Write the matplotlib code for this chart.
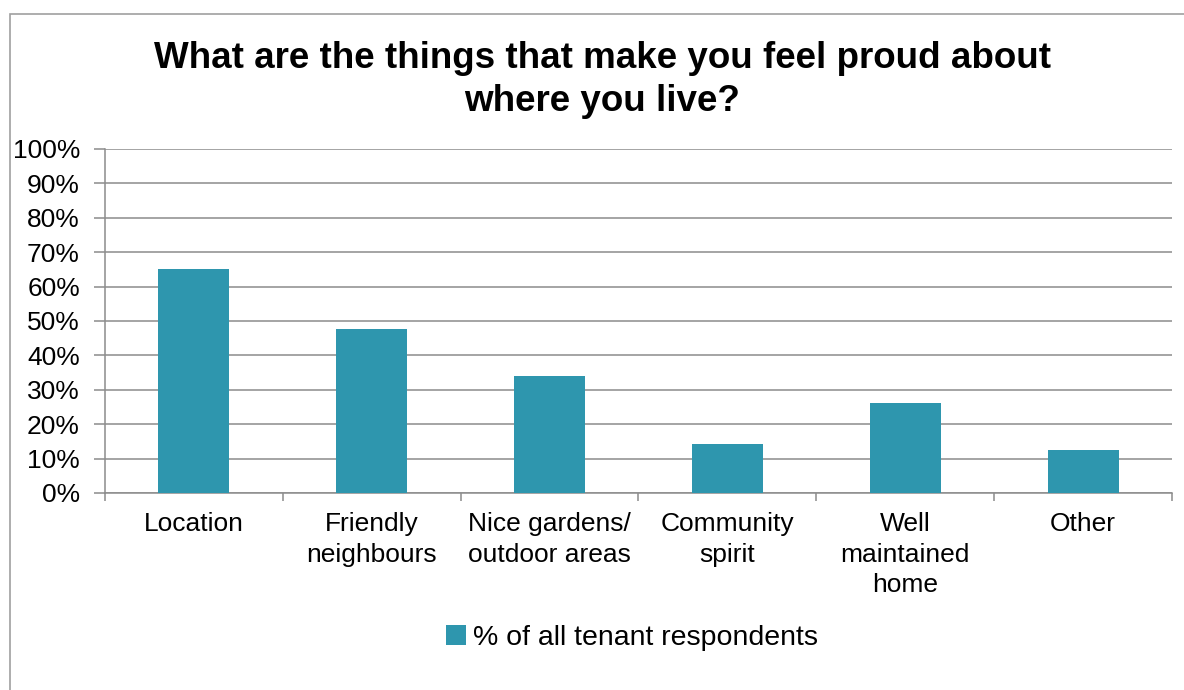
import matplotlib
matplotlib.use("Agg")
import matplotlib.pyplot as plt
from matplotlib.patches import Rectangle
from matplotlib.ticker import FixedLocator, NullFormatter

categories = ["Location", "Friendly\nneighbours", "Nice gardens/\noutdoor areas",
              "Community\nspirit", "Well\nmaintained\nhome", "Other"]
values = [65.0, 47.6, 34.0, 14.2, 26.2, 12.5]
series_name = "% of all tenant respondents"
y_ticks = list(range(0, 101, 10))
y_tick_labels = [f"{t}%" for t in y_ticks]

bar_color = "#2E96AE"
grid_color = "#8C8C8C"

plt.rcParams["font.family"] = ["Liberation Sans", "DejaVu Sans"]

W, H = 1184, 690
fig = plt.figure(figsize=(W / 100, H / 100), dpi=100)

# outer chart frame
fig.patches.append(Rectangle((10 / W, -0.01), 1.02, (H - 14) / H + 0.01,
                             transform=fig.transFigure, fill=False,
                             edgecolor="#A0A0A0", linewidth=1.2))

ax = fig.add_axes([105 / W, 1 - 493 / H, (1172 - 105) / W, (493 - 149) / H])

x = list(range(len(categories)))
ax.bar(x, values, width=0.4, color=bar_color, label=series_name, zorder=3)

ax.set_xlim(-0.5, len(categories) - 0.5)
ax.set_ylim(0, 100)
ax.set_yticks(y_ticks)
ax.set_yticklabels(y_tick_labels, fontsize=19)
ax.yaxis.grid(True, color=grid_color, linewidth=1.1, zorder=0)

ax.set_xticks(x)
ax.set_xticklabels(categories, fontsize=19, linespacing=1.33)
ax.tick_params(axis="x", length=0, pad=14)
ax.xaxis.set_minor_locator(FixedLocator([i - 0.5 for i in range(len(categories) + 1)]))
ax.xaxis.set_minor_formatter(NullFormatter())
ax.tick_params(axis="x", which="minor", length=6, color=grid_color, width=1.1)
ax.tick_params(axis="y", length=8, color=grid_color, width=1.1, pad=10)

for side in ["top", "right"]:
    ax.spines[side].set_visible(False)
for side in ["left", "bottom"]:
    ax.spines[side].set_color(grid_color)
    ax.spines[side].set_linewidth(1.1)

fig.text(602 / W, 1 - 80 / H, "What are the things that make you feel proud about\nwhere you live?",
         ha="center", va="center", fontsize=26.5, fontweight="bold", linespacing=1.3)

fig.legend(loc="center", bbox_to_anchor=(632 / W, 1 - 638 / H), frameon=False,
           fontsize=20.5, handlelength=0.7, handleheight=0.7, handletextpad=0.25)

fig.savefig("out.png", dpi=100)
